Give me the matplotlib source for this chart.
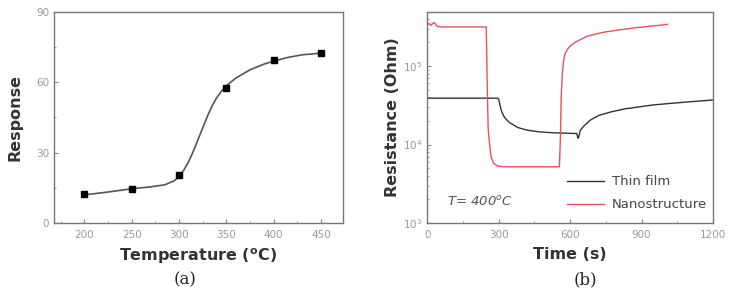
import matplotlib.pyplot as plt
import numpy as np
from matplotlib.ticker import AutoMinorLocator, LogLocator

# panel (a): response vs temperature
temps = [200, 250, 300, 350, 400, 450]
response = [12.5, 14.5, 20.5, 57.5, 69.5, 72.5]
# fitted curve
fit_temp = [200, 225, 250, 270, 285, 295, 300, 305, 310, 315, 320, 325, 330, 335, 340, 345,
            350, 360, 375, 390, 400, 415, 430, 450]
fit_resp = [12.0, 13.2, 14.6, 15.4, 16.3, 18.0, 19.8, 22.5, 26.0, 30.5, 35.5, 40.5, 45.5, 50.0,
            53.5, 56.3, 58.5, 61.8, 65.3, 67.8, 69.0, 70.6, 71.7, 72.4]

# panel (b): resistance vs time
thin_t = [0, 295, 300, 311, 325, 346, 380, 417, 470, 530, 600, 628, 633, 636, 643, 660, 685, 720,
          770, 830, 883, 950, 1024, 1100, 1200]
thin_r = [3.9e4, 3.9e4, 3.8e4, 2.7e4, 2.2e4, 1.9e4, 1.65e4, 1.53e4, 1.45e4, 1.41e4, 1.39e4,
          1.38e4, 1.2e4, 1.25e4, 1.53e4, 1.75e4, 2.05e4, 2.35e4, 2.6e4, 2.85e4, 3.0e4, 3.2e4,
          3.35e4, 3.5e4, 3.7e4]
nano_t = [0, 8, 15, 22, 30, 38, 45, 60, 100, 200, 248, 252, 256, 261, 268, 278, 296, 330, 450,
          555, 559, 563, 568, 573, 579, 590, 600, 620, 671, 741, 810, 883, 950, 1009]
nano_r = [3.3e5, 3.5e5, 3.3e5, 3.45e5, 3.6e5, 3.3e5, 3.2e5, 3.15e5, 3.15e5, 3.15e5, 3.15e5,
          6e4, 1.6e4, 1.1e4, 7.0e3, 5.8e3, 5.3e3, 5.2e3, 5.2e3, 5.2e3, 1.2e4, 4.5e4, 8.5e4,
          1.2e5, 1.45e5, 1.65e5, 1.8e5, 2.0e5, 2.4e5, 2.7e5, 2.9e5, 3.1e5, 3.25e5, 3.4e5]

gray = "#777777"
tick_gray = "#888888"

fig = plt.figure(figsize=(7.39, 2.9), dpi=100)
ax1 = fig.add_axes([0.073, 0.231, 0.391, 0.728])
ax2 = fig.add_axes([0.578, 0.231, 0.387, 0.728])

ax1.plot(fit_temp, fit_resp, color="#555555", lw=1.2)
ax1.plot(temps, response, "s", color="black", markersize=5)
ax1.set_xlim(168, 473)
ax1.set_ylim(0, 90)
ax1.set_xticks([200, 250, 300, 350, 400, 450])
ax1.set_yticks([0, 30, 60, 90])
ax1.xaxis.set_minor_locator(AutoMinorLocator(2))
ax1.yaxis.set_minor_locator(AutoMinorLocator(2))
ax1.set_xlabel("Temperature ($^{\\mathregular{o}}$C)", fontsize=11.5, fontweight="bold", color="#333333", labelpad=5)
ax1.set_ylabel("Response", fontsize=11.5, fontweight="bold", color="#333333", labelpad=10)

ax2.plot(thin_t, thin_r, color="#333333", lw=1.0, label="Thin film")
ax2.plot(nano_t, nano_r, color="#e8505b", lw=1.0, label="Nanostructure")
ax2.set_yscale("log")
ax2.set_xlim(0, 1200)
ax2.set_ylim(1e3, 4.9e5)
ax2.set_xticks([0, 300, 600, 900, 1200])
ax2.xaxis.set_minor_locator(AutoMinorLocator(2))
ax2.yaxis.set_major_locator(LogLocator(base=10, numticks=10))
ax2.yaxis.set_minor_locator(LogLocator(base=10, subs=np.arange(2, 10), numticks=10))
ax2.set_xlabel("Time (s)", fontsize=11.5, fontweight="bold", color="#333333", labelpad=5)
ax2.set_ylabel("Resistance (Ohm)", fontsize=11.5, fontweight="bold", color="#333333", labelpad=2)
ax2.text(0.07, 0.1, "T= 400$^{\\mathregular{o}}$C", transform=ax2.transAxes, fontsize=9.5,
         style="italic", color="#555555", va="center")
leg = ax2.legend(loc="lower right", bbox_to_anchor=(1.02, 0.0), frameon=False, fontsize=9.5,
                 handlelength=2.8, labelspacing=0.75, handletextpad=0.6)
for t in leg.get_texts():
    t.set_color("#444444")

for ax in (ax1, ax2):
    for s in ax.spines.values():
        s.set_color(gray)
        s.set_linewidth(1.0)
    ax.tick_params(which="both", direction="in", colors=tick_gray, labelsize=7.5, labelcolor="#999999")
    ax.tick_params(which="major", length=3)
    ax.tick_params(which="minor", length=1.5)
    ax.tick_params(axis="x", pad=5)

fig.text(0.25, 0.004, "(a)", fontsize=12, family="DejaVu Serif", color="#222222", ha="center", va="bottom")
fig.text(0.792, 0.004, "(b)", fontsize=12, family="DejaVu Serif", color="#222222", ha="center", va="bottom")

fig.savefig("out.png", dpi=100)
